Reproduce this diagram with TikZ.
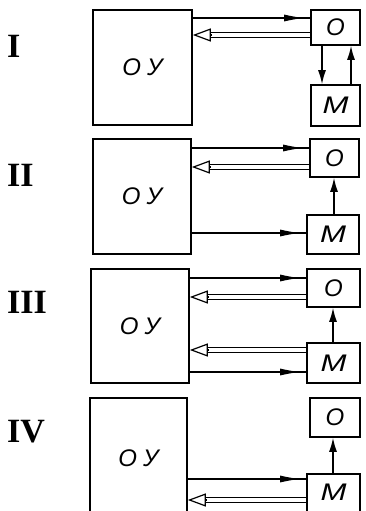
\documentclass[tikz,border=0pt]{standalone}
\usepackage{fontspec}
\usepackage{graphicx}
\setmainfont{Liberation Serif}
\newfontfamily\lblfont{Liberation Sans}
\usetikzlibrary{arrows.meta,calc,decorations.markings}
\newcommand\hollowarrow[2]{%
  \draw[dline, shorten >=17pt] (#1) -- (#2);
  \draw[htip] ($(#2)!18pt!(#1)$) -- (#2);}
\begin{document}
\begin{tikzpicture}[x=1pt,y=-1pt,
 box/.style={draw,line width=1.6pt,inner sep=0pt},
 sarrow/.style={line width=1.2pt, postaction={decorate}, decoration={markings, mark=at position -6pt with {\arrow{Latex[length=20pt,width=7pt]}}}},
 varrow/.style={line width=1.4pt,-{Latex[length=14pt,width=8pt]}},
 dline/.style={double, double distance=4pt, line width=1.1pt},
 htip/.style={line width=1.2pt,-{Triangle[open,length=18pt,width=13pt]}},
 num/.style={font=\bfseries\fontsize{34}{34}\selectfont, anchor=west, inner sep=0pt},
 lbl/.style={font=\lblfont\itshape\fontsize{24}{24}\selectfont}
]
\useasboundingbox (0,0) rectangle (366,511);
\clip (0,0) rectangle (366,511);
\fill[white] (0,0) rectangle (366,511);
% numerals
\node[num] (n1) at (7,46) {I};
\node[num] (n2) at (7,175) {II};
\node[num] (n3) at (7,302) {III};
\node[num] (n4) at (7,432) {IV};
% ---------- Panel I
\node[box,lbl,minimum width=99pt,minimum height=115pt] (OY1) at (142.5,67.5) {О\kern6ptУ};
\node[box,lbl,minimum width=49pt,minimum height=35pt] (O1) at (335.5,27.5) {О};
\node[box,lbl,minimum width=49pt,minimum height=41pt] (M1) at (335.5,105.5) {\scalebox{1.3}[1]{М}};
\draw[sarrow] (OY1.east |- 0,18) -- (O1.west |- 0,18);
\coordinate (h1a) at (O1.west |- 0,35);
\coordinate (h1b) at (OY1.east |- 0,35);
\hollowarrow{h1a}{h1b}
\draw[varrow] (O1.south -| 322,0) -- (M1.north -| 322,0);
\draw[varrow] (M1.north -| 351,0) -- (O1.south -| 351,0);
% ---------- Panel II
\node[box,lbl,minimum width=98pt,minimum height=115pt] (OY2) at (142,196.5) {О\kern6ptУ};
\node[box,lbl,minimum width=49pt,minimum height=38pt] (O2) at (334.5,158) {О};
\node[box,lbl,minimum width=52pt,minimum height=39pt] (M2) at (333,234.5) {\scalebox{1.3}[1]{М}};
\draw[sarrow] (OY2.east |- 0,148) -- (O2.west |- 0,148);
\coordinate (h2a) at (O2.west |- 0,167);
\coordinate (h2b) at (OY2.east |- 0,167);
\hollowarrow{h2a}{h2b}
\draw[varrow] (M2.north -| 334,0) -- (O2.south -| 334,0);
\draw[sarrow] (OY2.east |- 0,233) -- (M2.west |- 0,233);
% ---------- Panel III
\node[box,lbl,minimum width=98pt,minimum height=114pt] (OY3) at (140,326) {О\kern6ptУ};
\node[box,lbl,minimum width=53pt,minimum height=38pt] (O3) at (333.5,288) {О};
\node[box,lbl,minimum width=53pt,minimum height=40pt] (M3) at (333.5,363) {\scalebox{1.3}[1]{М}};
\draw[sarrow] (OY3.east |- 0,278) -- (O3.west |- 0,278);
\coordinate (h3a) at (O3.west |- 0,297);
\coordinate (h3b) at (OY3.east |- 0,297);
\hollowarrow{h3a}{h3b}
\draw[varrow] (M3.north -| 333,0) -- (O3.south -| 333,0);
\coordinate (h3c) at (M3.west |- 0,350);
\coordinate (h3d) at (OY3.east |- 0,350);
\hollowarrow{h3c}{h3d}
\draw[sarrow] (OY3.east |- 0,372) -- (M3.west |- 0,372);
% ---------- Panel IV
\node[box,minimum width=97pt,minimum height=132pt] (OY4) at (138.5,464) {};
\node[lbl] (t4) at (138.5,458) {О\kern6ptУ};
\node[box,lbl,minimum width=50pt,minimum height=39pt] (O4) at (335,417.5) {О};
\node[box,minimum width=53pt,minimum height=56pt] (M4) at (333.5,502) {};
\node[lbl] (m4) at (333.5,492) {\scalebox{1.3}[1]{М}};
\draw[varrow] (M4.north -| 333,0) -- (O4.south -| 333,0);
\draw[sarrow] (OY4.east |- 0,479) -- (M4.west |- 0,479);
\coordinate (h4a) at (M4.west |- 0,500);
\coordinate (h4b) at (OY4.east |- 0,500);
\hollowarrow{h4a}{h4b}
\end{tikzpicture}
\end{document}
